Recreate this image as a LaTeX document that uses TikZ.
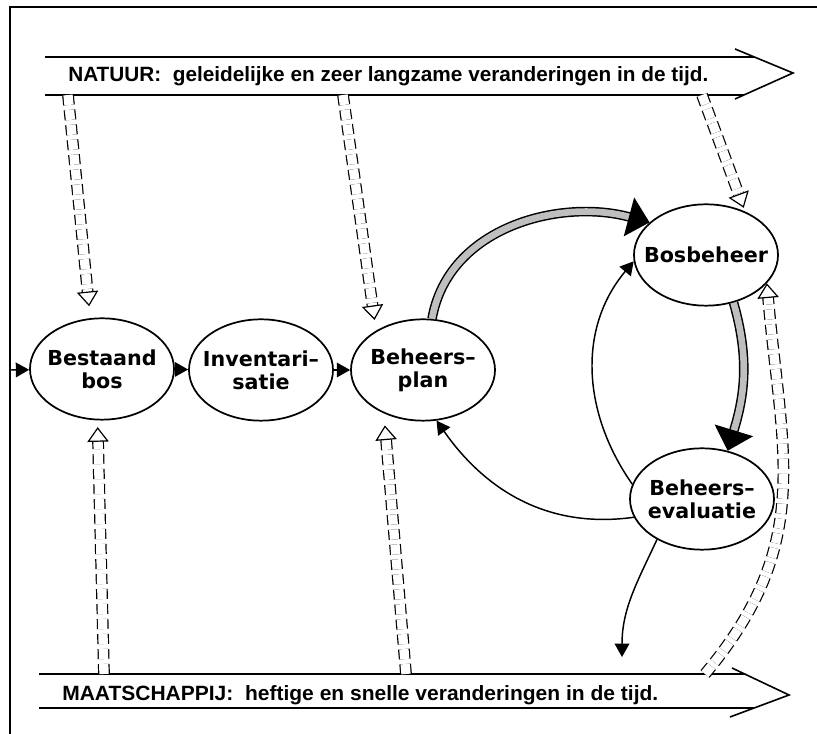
\documentclass[tikz,border=0pt]{standalone}
\usepackage{fontspec}
\setmainfont{Liberation Sans}
\newfontfamily\ellfont{DejaVu Sans}
\usetikzlibrary{shapes.geometric,arrows.meta}

\begin{document}
\begin{tikzpicture}[x=0.75pt,y=0.75pt,
  fase/.style={draw, ellipse, line width=1.3pt, minimum width=108pt, minimum height=76pt, inner sep=-15pt, align=center, font=\ellfont\bfseries\fontsize{15.5}{17.5}\selectfont},
  stap/.style={line width=1.1pt, -{Triangle[length=10pt,width=11pt]}},
  invloed/.style={double, double distance=7pt, line width=0.9pt, dash pattern=on 7.5pt off 3.75pt, -{Triangle[open,length=11pt,width=16pt]}},
  cyclus/.style={double=black!25, double distance=5pt, line width=1.1pt, -{Triangle[length=16pt,width=30pt]}},
  tijdlijn/.style={anchor=base west, inner sep=0pt, font=\bfseries\fontsize{15.5}{18}\selectfont}]
\useasboundingbox (0,0) rectangle (817,734);

% kader
\draw[line width=1.2pt] (10,0) -- (10,727) -- (817,727);

% tijdlijnen
\draw[line width=1.2pt] (45,677) -- (754,677) (735,685) -- (793,661) -- (735,635) (45,639) -- (744,639);
\draw[line width=1.2pt] (39,60) -- (745,60) (732,66) -- (789,39) -- (730,17) (39,26) -- (754,26);
\node[tijdlijn] (natuur) at (68,652) {\resizebox{480pt}{\height}{NATUUR:\ \ geleidelijke en zeer langzame veranderingen in de tijd.}};
\node[tijdlijn] (maatsch) at (62,33) {\resizebox{447pt}{\height}{MAATSCHAPPIJ:\ \ heftige en snelle veranderingen in de tijd.}};

\coordinate (n1) at (68,639);
\coordinate (n2) at (343,639);
\coordinate (n3) at (702,639);
\coordinate (m1) at (104,60);
\coordinate (m2) at (406,60);
\coordinate (m3) at (705,60);
\coordinate (in) at (11,364);
\coordinate (uit) at (622,77);

% fasen
\node[fase] (bos) at (102,365) {Bestaand\\bos};
\node[fase] (inv) at (261,364) {Inventari–\\satie};
\node[fase] (plan) at (423,364) {Beheers–\\plan};
\node[fase] (beheer) at (706,479) {Bosbeheer};
\node[fase] (eval) at (702,235) {Beheers–\\evaluatie};

\path[draw,stap] (in) -- (bos);
\path[draw,stap] (bos) -- (inv);
\path[draw,stap] (inv) -- (plan);

\path[draw,cyclus] (plan.80) to[out=80,in=165] (beheer.150);
\path[draw,cyclus] (beheer.-60) to[out=-74,in=73] (eval.62);

\path[draw,stap] (eval.168) to[out=125,in=-130] (beheer.185);
\path[draw,stap] (eval.195) to[out=188,in=-55] (plan.-75);
\path[draw,stap] (eval.222) to[out=-115,in=90] (uit);

\path[draw,invloed,shorten >=9pt] (n1) -- (bos.103);
\path[draw,invloed,shorten >=8pt] (n2) -- (plan.140);
\path[draw,invloed,shorten >=3pt] (n3) -- (beheer.48);
\path[draw,invloed,shorten >=5pt] (m1) -- (bos.265);
\path[draw,invloed,shorten >=9pt] (m2) -- (plan.228);
\path[draw,invloed] (m3) to[out=50,in=-85,looseness=1.1] (beheer.-25);
\end{tikzpicture}
\end{document}
